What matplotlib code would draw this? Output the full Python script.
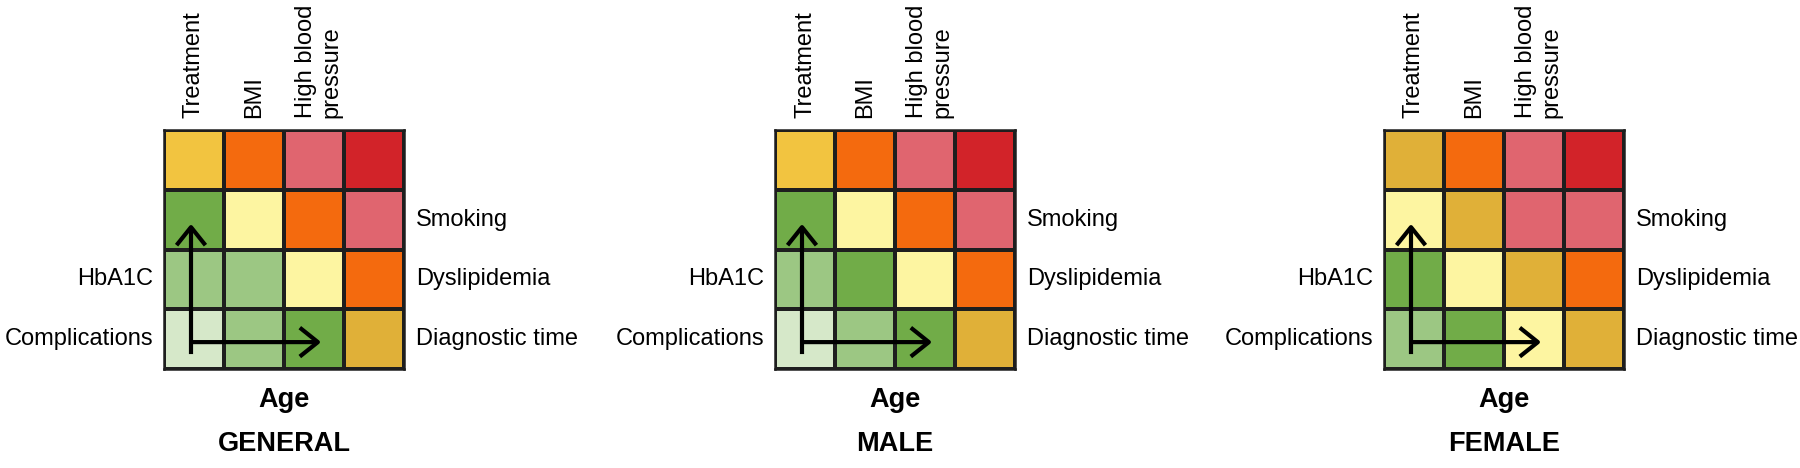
import matplotlib
matplotlib.use("Agg")
import matplotlib.pyplot as plt
from matplotlib.colors import ListedColormap, BoundaryNorm
import numpy as np

# ---- data ----
panel_titles = ["GENERAL", "MALE", "FEMALE"]
col_labels = ["Treatment", "BMI", "High blood\npressure", ""]
right_labels = ["", "Smoking", "Dyslipidemia", "Diagnostic time"]
left_labels = ["", "", "HbA1C", "Complications"]
bottom_label = "Age"

# colour levels (0 = light green ... 8 = dark red)
level_colors = ["#D6E8C9", "#9CC783", "#71AC48", "#FDF5A1", "#F2C440",
                "#E0B038", "#F46A0E", "#E0656F", "#D22329"]

# rows listed top to bottom
general = [[4, 6, 7, 8],
           [2, 3, 6, 7],
           [1, 1, 3, 6],
           [0, 1, 2, 5]]
male = [[4, 6, 7, 8],
        [2, 3, 6, 7],
        [1, 2, 3, 6],
        [0, 1, 2, 5]]
female = [[5, 6, 7, 8],
          [3, 5, 7, 7],
          [2, 3, 5, 6],
          [1, 2, 3, 5]]
panels = [general, male, female]

# ---- figure ----
W, H = 1800, 468
fig = plt.figure(figsize=(W / 100, H / 100), dpi=100)

FONT = ["Liberation Sans", "DejaVu Sans"]
fs = 17
fsb = 19.5

cmap = ListedColormap(level_colors)
norm = BoundaryNorm(np.arange(-0.5, len(level_colors) + 0.5, 1), cmap.N)

grid_lefts = [164, 775, 1384]
grid_w, grid_h = 240, 239
grid_bottom = H - 369

for left, data, title in zip(grid_lefts, panels, panel_titles):
    ax = fig.add_axes([left / W, grid_bottom / H, grid_w / W, grid_h / H])
    arr = np.array(data)[::-1]  # bottom row first
    ax.pcolormesh(np.arange(5), np.arange(5), arr, cmap=cmap, norm=norm,
                  edgecolors="#1e1e1e", linewidth=1.6)
    ax.set_xlim(0, 4)
    ax.set_ylim(0, 4)
    ax.set_xticks([])
    ax.set_yticks([])
    for sp in ax.spines.values():
        sp.set_linewidth(1.8)
        sp.set_color("#1e1e1e")

    # column labels (top, rotated)
    for j, lab in enumerate(col_labels):
        if lab:
            xoff = 0.08 if "\n" in lab else 0.0
            ax.text(j + 0.5 + xoff, 4.2, lab, rotation=90, ha="center",
                    va="bottom", multialignment="left", fontsize=fs,
                    family=FONT, linespacing=1.25)
    # right labels
    for i, lab in enumerate(right_labels):
        if lab:
            ax.text(4.2, 3.5 - i, lab, ha="left", va="center",
                    fontsize=fs, family=FONT)
    # left labels
    for i, lab in enumerate(left_labels):
        if lab:
            ax.text(-0.18, 3.5 - i, lab, ha="right", va="center",
                    fontsize=fs, family=FONT)
    # bottom label and title
    ax.text(2.0, -0.633, bottom_label, ha="center", va="baseline",
            fontsize=fsb, fontweight="bold", family=FONT)
    ax.text(2.0, -1.367, title, ha="center", va="baseline",
            fontsize=fsb, fontweight="bold", family=FONT)

    # arrows
    arrow_kw = dict(arrowstyle="->,head_length=0.65,head_width=0.52",
                    lw=3.0, color="black", shrinkA=0, shrinkB=0,
                    mutation_scale=20, capstyle="butt")
    ax.annotate("", xy=(0.45, 2.43), xytext=(0.45, 0.25),
                arrowprops=arrow_kw, annotation_clip=False)
    ax.annotate("", xy=(2.62, 0.45), xytext=(0.43, 0.45),
                arrowprops=arrow_kw, annotation_clip=False)

fig.savefig("out.png", dpi=100, facecolor="white")
